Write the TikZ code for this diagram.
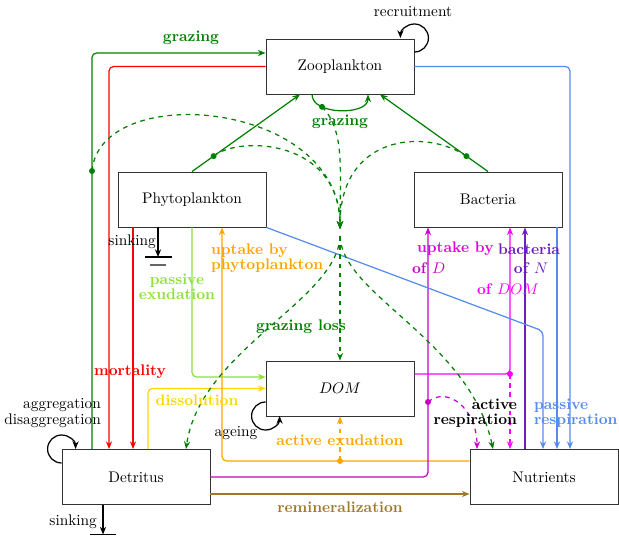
\documentclass[tikz,border=0pt]{standalone}
\usetikzlibrary{arrows.meta,calc}
\definecolor{gr}{RGB}{0,128,0}
\definecolor{lgr}{RGB}{140,225,60}
\definecolor{org}{RGB}{255,165,0}
\definecolor{yel}{RGB}{255,215,0}
\definecolor{blu}{RGB}{85,140,240}
\definecolor{magD}{RGB}{200,0,200}
\definecolor{pnk}{RGB}{255,0,255}
\definecolor{upk}{RGB}{225,0,225}
\definecolor{vio}{RGB}{110,30,190}
\definecolor{brn}{RGB}{160,120,40}
\begin{document}
\begin{tikzpicture}[x=0.651pt,y=0.651pt,
  box/.style={draw=black!80, fill=white, minimum width=96.3pt, minimum height=35.8pt, inner sep=0pt, line width=0.6pt},
  flow/.style={line width=0.8pt, -{Stealth[length=5pt,width=4pt]}, rounded corners=3pt},
  lbl/.style={font=\bfseries, inner sep=0.5pt},
  txt/.style={inner sep=0.5pt}]
\useasboundingbox[fill=white] (0,0) rectangle (619,-536);
% nodes
\node[box] (zoo) at (340,-66.5) {Zooplankton};
\node[box] (phy) at (192,-199.5) {Phytoplankton};
\node[box] (bac) at (488,-199.5) {Bacteria};
\node[box] (dom) at (340,-388.5) {$DOM$};
\node[box] (det) at (136,-477) {Detritus};
\node[box] (nut) at (544,-477) {Nutrients};
% column and row helpers
\foreach \c in {92,103,109,133,148,158,186,192,222,300,312,368,380,428,477,493,510,525,543,557,570}
  \coordinate (c\c) at (\c,0);
\foreach \r in {52,53,374,377,402,461,463,494}
  \coordinate (r\r) at (0,-\r);
\coordinate (gd1) at (92,-171);
\coordinate (J1) at (340,-229);
\coordinate (J2) at (340,-236);
\coordinate (od) at (340,-461);
\coordinate (md) at (428,-402);
\coordinate (pdd) at (510,-374);
\coordinate (bc) at (543,-331);
\coordinate (g1) at (158,-257);
\coordinate (g2) at (103,-534.5);
% grazing from detritus
\draw[flow,gr] (det.north -| c92) |- (zoo.west |- r53);
% mortality
\draw[flow,red] (zoo.west) -| (det.north -| c109);
\draw[flow,red] (phy.south -| c133) -- (det.north -| c133);
% grazing of phyto and bacteria
\draw[flow,gr] (phy.north) -- (zoo.south -| c300) coordinate[pos=0.2] (pd);
\draw[flow,gr] (bac.north) -- (zoo.south -| c380) coordinate[pos=0.2] (bd);
\draw[flow,gr] (zoo.south -| c312) .. controls +(0,-21) and +(0,-21) .. (zoo.south -| c368) coordinate[pos=0.27] (zd);
% loops
\draw[flow,black] (zoo.east |- r52) arc[start angle=-90, end angle=180, radius=14];
\draw[flow,black] (det.west |- r463) arc[start angle=-90, end angle=-360, radius=14];
\draw[flow,black] (dom.west |- r402) arc[start angle=90, end angle=360, radius=14];
% exudation, dissolution, uptake
\draw[flow,lgr] (phy.south -| c192) |- (dom.west |- r377);
\draw[flow,yel] (det.north -| c148) |- (dom.west);
\draw[flow,org] (nut.west |- r461) -| (phy.south -| c222);
\draw[flow,org,dashed] (od) -- (dom.south);
\draw[flow,magD] (det.east) -| (bac.south -| c428);
\draw[flow,magD,dashed] (md) .. controls (448,-385) and (477,-410) .. (nut.north -| c477);
\draw[flow,pnk] (dom.east |- r374) -| (bac.south -| c510);
\draw[flow,pnk,dashed] (pdd) -- (nut.north -| c510);
\draw[flow,vio] (nut.north -| c525) -- (bac.south -| c525);
% passive respiration
\draw[flow,blu] (zoo.east) -| (nut.north -| c570);
\draw[flow,blu] (bac.south -| c557) -- (nut.north -| c557);
\draw[flow,blu] (phy.south east) -- (bc) -- (nut.north -| c543);
% remineralization
\draw[flow,brn] (det.east |- r494) -- (nut.west |- r494);
% sinking
\draw[flow,black] (phy.south -| c158) -- (g1);
\draw[black,line width=0.8pt] ($(g1)+(-13,0)$) -- ($(g1)+(14,0)$);
\draw[black!60,line width=0.8pt] ($(g1)+(-8,-8)$) -- ($(g1)+(8,-8)$);
\draw[flow,black] (det.south -| c103) -- (g2);
\draw[black,line width=0.8pt] ($(g2)+(-13,0)$) -- ($(g2)+(13,0)$);
% grazing junction (dashed)
\draw[flow,gr,dashed] (gd1) .. controls (100,-80) and (340,-100) .. (J1);
\draw[flow,gr,dashed] (pd) .. controls (240,-135) and (340,-140) .. (J1);
\draw[flow,gr,dashed] (bd) .. controls (425,-128) and (340,-135) .. (J1);
\draw[flow,gr,dashed] (zd) .. controls (345,-130) and (340,-170) .. (J1);
\draw[flow,gr,dashed] (J2) -- (dom.north);
\draw[flow,gr,dashed] (J2) .. controls (338,-300) and (200,-350) .. (det.north -| c186);
\draw[flow,gr,dashed] (J2) .. controls (342,-295) and (470,-340) .. (nut.north -| c493);
% dots
\foreach \p/\c in {gd1/gr, pd/gr, bd/gr, zd/gr, od/org, md/magD, pdd/pnk}
  \fill[\c] (\p) circle[radius=3];
% labels
\node[lbl,text=gr] at (191,-38) {grazing};
\node[lbl,text=gr] at (340,-122) {grazing};
\node[txt] at (413,-12) {recruitment};
\node[lbl,text=lgr,align=center] at (177,-287) {passive\\[-2pt]exudation};
\node[lbl,text=org,align=left,anchor=west] at (210,-258) {uptake by\\[-2pt]phytoplankton};
\node[lbl,text=red] at (130,-372) {mortality};
\node[lbl,text=yel] at (197,-400) {dissolution};
\node[lbl,text=gr] at (301,-327) {grazing loss};
\node[lbl,text=org] at (340,-440) {active exudation};
\node[lbl,text=brn] at (340,-507) {remineralization};
\node[lbl,align=right,anchor=east] at (518,-413) {active\\[-2pt]respiration};
\node[lbl,text=blu,align=left,anchor=west] at (533,-413) {passive\\[-2pt]respiration};
\node[txt,align=right,anchor=east] at (102,-413) {aggregation\\[-2pt]disaggregation};
\node[txt] at (236,-433) {ageing};
\node[txt,anchor=east] at (157,-242) {sinking};
\node[txt,anchor=east] at (98,-522) {sinking};
\node[lbl,text=upk,anchor=west] at (416,-249) {uptake by};
\node[lbl,text=vio] at (529,-249) {bacteria};
\node[lbl,text=magD,anchor=west] at (411,-268) {of $D$};
\node[lbl,text=vio] at (531,-268) {of $N$};
\node[lbl,text=pnk] at (508,-289) {of $DOM$};
\end{tikzpicture}
\end{document}
